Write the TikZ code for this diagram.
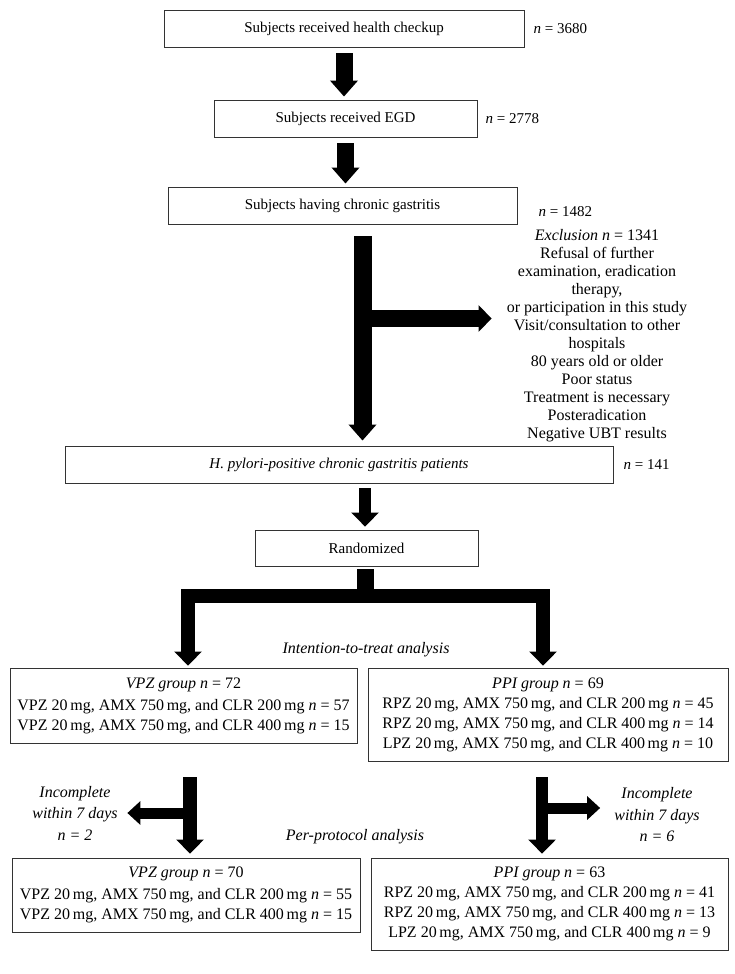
\documentclass[tikz,border=0pt]{standalone}
\usepackage{fontspec}
\setmainfont{Liberation Serif}
\usetikzlibrary{arrows.meta,positioning,calc}
\tikzset{
  flowbox/.style={
    draw=black!80,
    line width=0.9pt,
    minimum height=37pt,
    inner sep=3pt
  },
  topbox/.style={flowbox, font=\fontsize{15}{17}\selectfont},
  armbox/.style={flowbox, align=center, font=\fontsize{16}{20}\selectfont},
  count/.style={font=\fontsize{15}{17}\selectfont, inner sep=0pt},
  note/.style={align=center, inner sep=8pt, font=\fontsize{16}{21.5}\selectfont\itshape},
  fat/.style={line width=17pt},
  fatarrow/.style={fat, -{Triangle[length=16pt,width=27pt]}},
  midarrow/.style={line width=13.5pt, -{Triangle[length=14pt,width=27pt]}},
  sidearrow/.style={line width=11pt, -{Triangle[length=13pt,width=23pt]}}
}

\begin{document}
\begin{tikzpicture}[x=1pt,y=-1pt]
  \useasboundingbox (0,0) rectangle (734,974);

  % Screening
  \node[topbox, minimum width=360pt] (checkup) at (344,28.5) {Subjects received health checkup};
  \node[count, right=9pt of checkup] (nCheckup) {\textit{n} = 3680};
  \node[topbox, minimum width=263pt] (egd) at (345.5,118.5) {Subjects received EGD};
  \node[count, right=8pt of egd] (nEgd) {\textit{n} = 2778};
  \node[topbox, minimum width=349pt] (gastritis) at (342.5,205.5) {Subjects having chronic gastritis};
  \node[count, right=21pt of gastritis, yshift=-6pt] (nGastritis) {\textit{n} = 1482};

  \draw[fatarrow, shorten <=6pt, shorten >=3pt] (checkup.south) -- (checkup.south |- egd.north);
  \draw[fatarrow, shorten <=6pt, shorten >=3pt] (egd.south) -- (egd.south |- gastritis.north);

  % Exclusion
  \node[note, font=\fontsize{16}{18}\selectfont, inner xsep=15pt, inner ysep=2pt] (excl) at (597,336)
    {\textit{Exclusion n} = 1341\\Refusal of further\\examination, eradication\\therapy,\\or participation in this study\\
     Visit/consultation to other\\hospitals\\80 years old or older\\Poor status\\Treatment is necessary\\
     Posteradication\\Negative UBT results};
  \node[topbox, minimum width=548pt] (hpylori) at (339,464.5) {\itshape H. pylori-positive chronic gastritis patients};
  \node[count, right=10pt of hpylori] (nHpylori) {\textit{n} = 141};

  \coordinate (exJoint) at (362.5,318.5);
  \draw[fatarrow, shorten <=12pt, shorten >=5pt, line width=18pt] (gastritis.south -| exJoint) -- (hpylori.north -| exJoint);
  \draw[fat, -{Triangle[length=13pt,width=26pt]}] (exJoint) -- (excl.west |- exJoint);

  % Randomization
  \node[topbox, minimum width=223pt, minimum height=36pt] (rand) at (366.5,548) {Randomized};
  \coordinate (randIn) at (365,500);
  \draw[midarrow, line width=12.5pt, shorten <=5pt, shorten >=3pt] (hpylori.south -| randIn) -- (rand.north -| randIn);

  \node[armbox, minimum width=347pt, minimum height=75pt] (vpzITT) at (183.5,705.5)
    {\textit{VPZ group n} = 72\\[2pt]
     VPZ 20\,mg, AMX 750\,mg, and CLR 200\,mg \textit{n} = 57\\
     VPZ 20\,mg, AMX 750\,mg, and CLR 400\,mg \textit{n} = 15};
  \node[armbox, minimum width=360pt, minimum height=93pt] (ppiITT) at (548,714.5)
    {\textit{PPI group n} = 69\\
     RPZ 20\,mg, AMX 750\,mg, and CLR 200\,mg \textit{n} = 45\\
     RPZ 20\,mg, AMX 750\,mg, and CLR 400\,mg \textit{n} = 14\\
     LPZ 20\,mg, AMX 750\,mg, and CLR 400\,mg \textit{n} = 10};
  \node[note] (itt) at (366,650) {Intention-to-treat analysis};

  \coordinate (fork) at (365.5,596);
  \coordinate (ittL) at (188,596);
  \coordinate (ittR) at (543,596);
  \draw[fat] ([yshift=-3pt]rand.south -| fork) -- (fork);
  \draw[midarrow, line width=14pt, shorten >=2pt] (fork) -| (vpzITT.north -| ittL);
  \draw[midarrow, line width=14pt, shorten >=2pt] (fork) -| (ppiITT.north -| ittR);

  % Per-protocol
  \node[armbox, minimum width=348pt, minimum height=74pt] (vpzPP) at (186,895)
    {\textit{VPZ group n} = 70\\[2pt]
     VPZ 20\,mg, AMX 750\,mg, and CLR 200\,mg \textit{n} = 55\\
     VPZ 20\,mg, AMX 750\,mg, and CLR 400\,mg \textit{n} = 15};
  \node[armbox, minimum width=357pt, minimum height=92pt] (ppiPP) at (549.5,904)
    {\textit{PPI group n} = 63\\
     RPZ 20\,mg, AMX 750\,mg, and CLR 200\,mg \textit{n} = 41\\
     RPZ 20\,mg, AMX 750\,mg, and CLR 400\,mg \textit{n} = 13\\
     LPZ 20\,mg, AMX 750\,mg, and CLR 400\,mg \textit{n} = 9};
  \node[note] (pp) at (355,837) {Per-protocol analysis};

  \node[note, inner xsep=9.5pt] (incL) at (75,813) {Incomplete\\within 7 days\\\textit{n} = 2};
  \node[note, inner xsep=14pt] (incR) at (657,815) {Incomplete\\within 7 days\\\textit{n} = 6};

  \coordinate (dropL) at (190,813);
  \coordinate (dropR) at (542,808);
  \draw[midarrow, line width=14pt, shorten <=34pt, shorten >=4pt] (vpzITT.south -| dropL) -- (vpzPP.north -| dropL);
  \draw[midarrow, line width=12.5pt, shorten <=16pt, shorten >=4pt] (ppiITT.south -| dropR) -- (ppiPP.north -| dropR);
  \draw[sidearrow] (dropL) -- (incL.east |- dropL);
  \draw[sidearrow] (dropR) -- (incR.west |- dropR);
\end{tikzpicture}
\end{document}
